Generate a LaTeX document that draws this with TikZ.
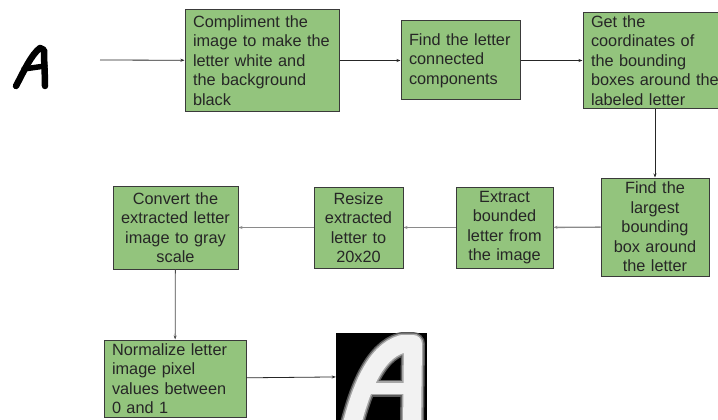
\documentclass[tikz,border=0pt]{standalone}
\usepackage{fontspec}
\setmainfont{Liberation Sans}
\usetikzlibrary{arrows.meta}
\definecolor{boxgreen}{HTML}{93C47D}
\definecolor{boxline}{HTML}{3A3A3A}
\definecolor{midline}{HTML}{8A8A8A}
\begin{document}
\begin{tikzpicture}[x=1pt,y=-1pt,
  stepbox/.style={draw=boxline,line width=1pt,fill=boxgreen,inner xsep=8pt,inner ysep=0pt,
    font=\fontsize{16.3}{19.5}\selectfont,text=black!85},
  lbox/.style={stepbox,align=left},
  cbox/.style={stepbox,align=center},
  conn/.style={-{Stealth[length=4pt,width=3pt]},line width=0.8pt,black!85},
  gconn/.style={-{Stealth[length=4pt,width=3pt]},line width=1.4pt,midline}]
\useasboundingbox (0,0) rectangle (718,420);
% boxes
\node[lbox,text width=138pt,minimum width=154pt,minimum height=101pt] (b1) at (262,60.5) {Compliment the\\image to make the\\letter white and\\the background\\black};
\node[lbox,text width=103pt,minimum width=119pt,minimum height=79pt] (b2) at (460.5,60.5) {Find the letter\\connected\\components};
\node[lbox,text width=135pt,minimum width=135pt,minimum height=96pt,inner xsep=0pt] (b3) at (650.5,60.5) {\mbox{\hspace*{8pt}Get the}\\\mbox{\hspace*{8pt}coordinates of}\\\mbox{\hspace*{8pt}the bounding}\\\mbox{\hspace*{8pt}boxes around the}\\\mbox{\hspace*{8pt}labeled letter}};
\node[cbox,text width=92pt,minimum width=108pt,minimum height=98pt] (b4) at (655,227) {Find the\\largest\\bounding\\box around\\the letter};
\node[cbox,text width=81pt,minimum width=97pt,minimum height=81pt] (b5) at (504.5,227.5) {Extract\\bounded\\letter from\\the image};
\node[cbox,text width=79pt,minimum width=89pt,minimum height=81pt,inner xsep=5pt] (b6) at (358.5,227.5) {Resize\\extracted\\letter to\\20x20};
\node[cbox,text width=119pt,minimum width=125pt,minimum height=83pt,inner xsep=3pt] (b7) at (175.5,227.5) {Convert the\\extracted letter\\image to gray\\scale};
\node[lbox,text width=126pt,minimum width=142pt,minimum height=77pt] (b8) at (175,378.5) {Normalize letter\\image pixel\\values between\\0 and 1};
% handwritten A
\draw[line width=6.5pt,line cap=round,line join=round] (16,86) .. controls (24,71) and (31,55) .. (40,48) -- (44,50) .. controls (44,62) and (45,74) .. (45,86);
\draw[line width=5.5pt,line cap=round] (24,69) -- (45,66);
\coordinate (src) at (100,60);
% result image
\node[fill=black,inner sep=0pt,minimum width=91pt,minimum height=87pt] (res) at (381.5,376.5) {};
\begin{scope}
\clip (res.north west) rectangle (res.south east);
\foreach \w/\c in {24/35,21/65,18/95} {
\draw[line width=\w pt,white!\c!black,line join=round] (351,428) .. controls (360,392) and (374,352) .. (402,344) -- (413,344) -- (412,428);
\draw[line width=\w pt-7pt,white!\c!black] (362,388) -- (414,388);
}
\end{scope}
% connectors
\draw[conn] (src) -- (b1);
\draw[conn] (b1) -- (b2);
\draw[conn] (b2) -- (b3);
\draw[conn] (b3.south -| b4.north) -- (b4.north);
\draw[gconn] (b4) -- (b5);
\draw[gconn] (b5) -- (b6);
\draw[gconn] (b6) -- (b7);
\draw[conn,black!70] (b7) -- (b8);
\draw[conn] (b8) -- (res);
\end{tikzpicture}
\end{document}
